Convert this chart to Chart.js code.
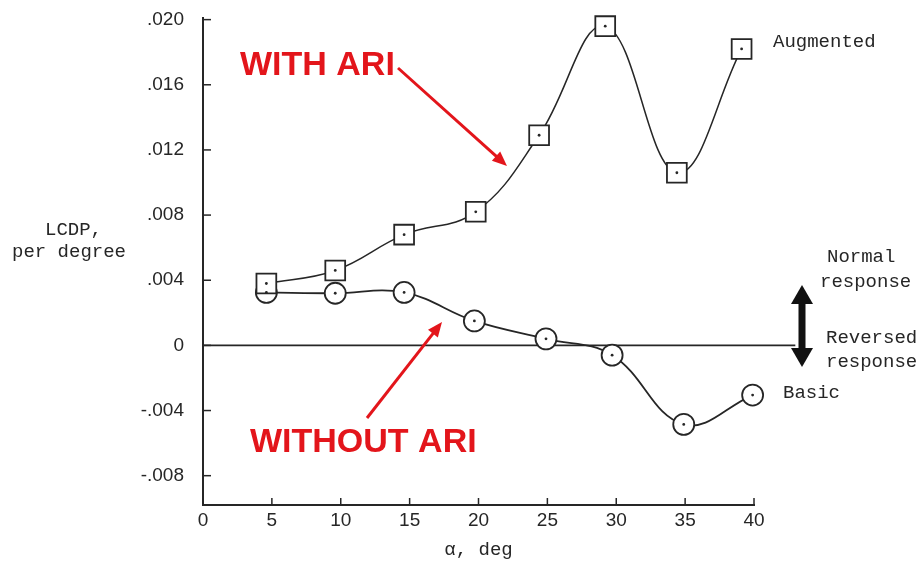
<!DOCTYPE html>
<html>
<head>
<meta charset="utf-8">
<title>LCDP vs angle of attack</title>
<script src="https://cdn.jsdelivr.net/npm/chart.js@4.4.1/dist/chart.umd.min.js"></script>
<style>
  html, body { margin: 0; padding: 0; background: #fff; }
  #wrap { width: 921px; height: 563px; }
</style>
</head>
<body>
<div id="wrap"><canvas id="lcdpChart" width="921" height="563"></canvas></div>
<script>
// values
var alphaAugmented = [4.6, 9.6, 14.6, 19.8, 24.4, 29.2, 34.4, 39.1];
var lcdpAugmented = [0.0038, 0.0046, 0.0068, 0.0082, 0.0129, 0.0196, 0.0106, 0.0182];
var alphaBasic = [4.6, 9.6, 14.6, 19.7, 24.9, 29.7, 34.9, 39.9];
var lcdpBasic = [0.00325, 0.0032, 0.00325, 0.0015, 0.0004, -0.0006, -0.00485, -0.00305];
var zeroLineX = [0, 43];

var xTicks = [0, 5, 10, 15, 20, 25, 30, 35, 40];
var yTicks = [-0.008, -0.004, 0, 0.004, 0.008, 0.012, 0.016, 0.020];
var yTickLabels = ['-.008', '-.004', '0', '.004', '.008', '.012', '.016', '.020'];

var ink = '#262626';
var red = '#e3151b';
var monoFont = '"Liberation Mono", "DejaVu Sans Mono", monospace';
var sansFont = '"Liberation Sans", Arial, sans-serif';

function pts(xs, ys) {
  return xs.map(function(x, i) { return { x: x, y: ys[i] }; });
}

function drawArrow(ctx, x1, y1, x2, y2, color, lw, head) {
  var ang = Math.atan2(y2 - y1, x2 - x1);
  ctx.save();
  ctx.strokeStyle = color;
  ctx.fillStyle = color;
  ctx.lineWidth = lw;
  ctx.beginPath();
  ctx.moveTo(x1, y1);
  ctx.lineTo(x2 - Math.cos(ang) * head * 0.8, y2 - Math.sin(ang) * head * 0.8);
  ctx.stroke();
  ctx.beginPath();
  ctx.moveTo(x2, y2);
  ctx.lineTo(x2 - head * Math.cos(ang - 0.4), y2 - head * Math.sin(ang - 0.4));
  ctx.lineTo(x2 - head * Math.cos(ang + 0.4), y2 - head * Math.sin(ang + 0.4));
  ctx.closePath();
  ctx.fill();
  ctx.restore();
}

// text, arrows and inward tick marks
var extrasPlugin = {
  id: 'extras',
  afterDraw: function(chart) {
    var ctx = chart.ctx;
    var xs = chart.scales.x, ys = chart.scales.y;
    var area = chart.chartArea;

    ctx.save();
    ctx.strokeStyle = ink;
    ctx.lineWidth = 1.5;
    yTicks.forEach(function(v) {
      var py = ys.getPixelForValue(v);
      ctx.beginPath(); ctx.moveTo(area.left, py); ctx.lineTo(area.left + 8, py); ctx.stroke();
    });
    xTicks.forEach(function(v) {
      var px = xs.getPixelForValue(v);
      ctx.beginPath(); ctx.moveTo(px, area.bottom); ctx.lineTo(px, area.bottom - 7); ctx.stroke();
    });

    ctx.fillStyle = ink;
    ctx.font = '19px ' + monoFont;
    ctx.textBaseline = 'middle';
    ctx.textAlign = 'left';
    ctx.fillText('LCDP,', 45, 230);
    ctx.fillText('per degree', 12, 252);
    ctx.fillText('Augmented', 773, 42);
    ctx.fillText('Basic', 783, 393);
    ctx.fillText('Normal', 827, 257);
    ctx.fillText('response', 820, 282);
    ctx.fillText('Reversed', 826, 338);
    ctx.fillText('response', 826, 362);

    // normal / reversed double arrow
    var ax = 802, top = 285, bot = 367;
    ctx.fillStyle = '#111';
    ctx.fillRect(ax - 3.5, top + 14, 7, bot - top - 28);
    ctx.beginPath();
    ctx.moveTo(ax, top); ctx.lineTo(ax + 11, top + 19); ctx.lineTo(ax - 11, top + 19);
    ctx.closePath(); ctx.fill();
    ctx.beginPath();
    ctx.moveTo(ax, bot); ctx.lineTo(ax + 11, bot - 19); ctx.lineTo(ax - 11, bot - 19);
    ctx.closePath(); ctx.fill();

    ctx.fillStyle = red;
    ctx.font = 'bold 34px ' + sansFont;
    ctx.fillText('WITH ARI', 240, 66);
    ctx.fillText('WITHOUT ARI', 250, 443);
    ctx.restore();

    drawArrow(ctx, 398, 68, 507, 166, red, 3, 16);
    drawArrow(ctx, 367, 418, 442, 322, red, 3, 16);
  }
};

document.addEventListener('DOMContentLoaded', function() {
  var ctx = document.getElementById('lcdpChart').getContext('2d');
  new Chart(ctx, {
    type: 'line',
    data: {
      datasets: [
        {
          label: 'zero',
          data: pts(zeroLineX, [0, 0]),
          borderColor: ink,
          borderWidth: 1.6,
          pointRadius: 0,
          clip: false,
          order: 5
        },
        {
          label: 'Augmented',
          data: pts(alphaAugmented, lcdpAugmented),
          borderColor: ink,
          borderWidth: 1.5,
          tension: 0.4,
          pointStyle: 'rect',
          pointRadius: 14,
          pointBackgroundColor: '#fff',
          pointBorderColor: ink,
          pointBorderWidth: 1.8,
          clip: false,
          order: 2
        },
        {
          label: 'Basic',
          data: pts(alphaBasic, lcdpBasic),
          borderColor: ink,
          borderWidth: 1.8,
          tension: 0.4,
          pointStyle: 'circle',
          pointRadius: 10.5,
          pointBackgroundColor: '#fff',
          pointBorderColor: ink,
          pointBorderWidth: 1.8,
          clip: false,
          order: 2
        },
        {
          label: 'dotsA',
          data: pts(alphaAugmented, lcdpAugmented),
          showLine: false,
          pointRadius: 1.4,
          pointBackgroundColor: ink,
          pointBorderWidth: 0,
          clip: false,
          order: 0
        },
        {
          label: 'dotsB',
          data: pts(alphaBasic, lcdpBasic),
          showLine: false,
          pointRadius: 1.4,
          pointBackgroundColor: ink,
          pointBorderWidth: 0,
          clip: false,
          order: 0
        }
      ]
    },
    options: {
      responsive: false,
      animation: false,
      layout: { padding: { top: 18, right: 167, left: 0, bottom: 0 } },
      plugins: {
        legend: { display: false },
        tooltip: { enabled: false }
      },
      scales: {
        x: {
          type: 'linear',
          min: 0,
          max: 40,
          afterBuildTicks: function(scale) {
            scale.ticks = xTicks.map(function(v) { return { value: v }; });
          },
          afterFit: function(scale) {
            scale.height = 58;
            scale.paddingLeft = 0;
            scale.paddingRight = 0;
          },
          grid: { display: false, drawTicks: false },
          border: { display: true, color: ink, width: 2 },
          ticks: {
            color: ink,
            padding: 4,
            maxRotation: 0,
            font: { family: sansFont, size: 19 }
          },
          title: {
            display: true,
            text: 'α, deg',
            color: ink,
            padding: { top: 2, bottom: 2 },
            font: { family: monoFont, size: 19 }
          }
        },
        y: {
          type: 'linear',
          min: -0.0098,
          max: 0.0201,
          afterBuildTicks: function(scale) {
            scale.ticks = yTicks.map(function(v) { return { value: v }; });
          },
          afterFit: function(scale) {
            scale.width = 203;
            scale.paddingTop = 0;
            scale.paddingBottom = 0;
          },
          grid: { display: false, drawTicks: false },
          border: { display: true, color: ink, width: 2 },
          ticks: {
            color: ink,
            padding: 19,
            font: { family: sansFont, size: 19 },
            callback: function(value, index) { return yTickLabels[index]; }
          }
        }
      }
    },
    plugins: [extrasPlugin]
  });
});
</script>
</body>
</html>
